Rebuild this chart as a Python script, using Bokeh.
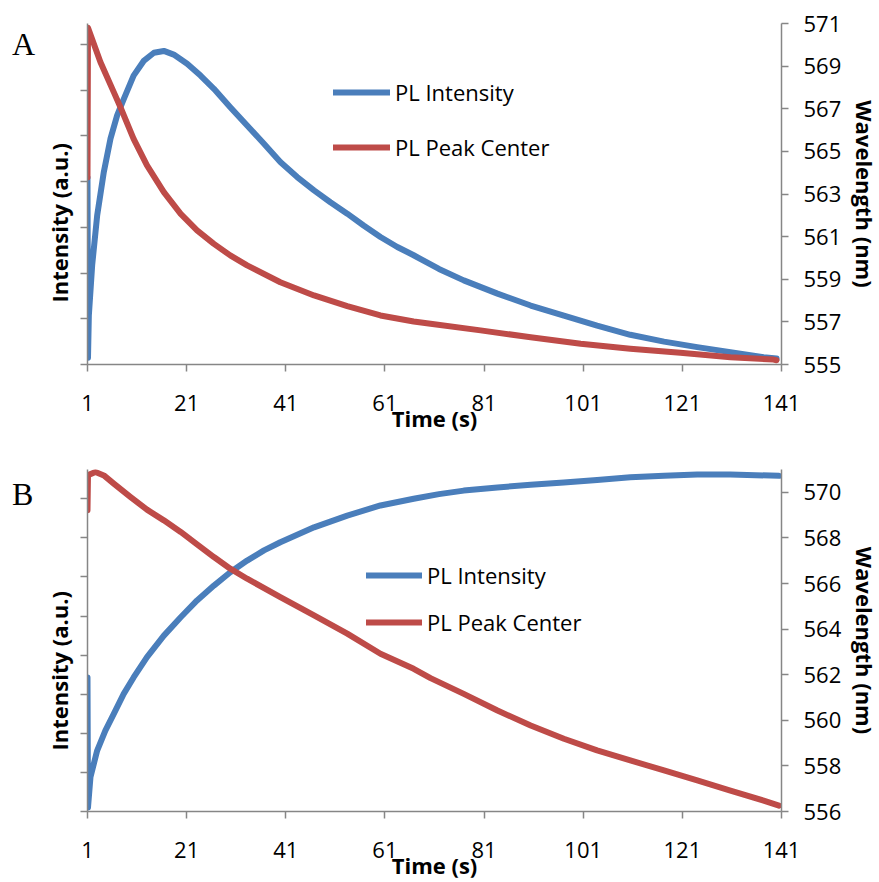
import math

from bokeh.embed import file_html
from bokeh.layouts import column, row
from bokeh.models import (Div, FixedTicker, Legend, LegendItem, LinearAxis, Range1d,
                          Title)
from bokeh.plotting import figure
from bokeh.resources import INLINE

BLUE = "#4A7EBB"
RED = "#BE4B48"
AXIS_GREY = "#868686"
FONT = "Open Sans"

time_ticks = [1, 21, 41, 61, 81, 101, 121, 141]

# ---- Panel A: PL intensity (a.u.) and PL peak centre (nm) vs time (s)
a_int_time = [1, 1.1, 1.27, 1.94, 2.95, 4.29, 5.64, 6.98, 8.33, 10.3, 12.4, 14.4,
              16.4, 18.4, 21.1, 23.8, 26.5, 29.8, 33.2, 36.6, 39.9, 43.3, 46.7,
              50.0, 53.4, 56.7, 60.1, 63.5, 66.8, 71.9, 76.9, 83.7, 90.4, 97.1,
              103.8, 110.5, 117.3, 124.0, 130.7, 137.4, 140.0]
a_int = [4.09, 0.15, 1.07, 2.17, 3.26, 4.21, 4.94, 5.45, 5.81, 6.32, 6.65, 6.82,
         6.86, 6.78, 6.58, 6.32, 6.03, 5.63, 5.23, 4.83, 4.43, 4.10, 3.81,
         3.55, 3.30, 3.04, 2.79, 2.57, 2.39, 2.09, 1.84, 1.55, 1.29, 1.07,
         0.85, 0.65, 0.50, 0.38, 0.27, 0.16, 0.13]
a_wl_time = [1, 1.1, 3.6, 6.3, 7.65, 10.3, 13.0, 16.4, 19.8, 23.1, 26.5, 29.8,
             33.2, 39.9, 46.7, 53.4, 60.1, 66.8, 70.2, 80.3, 90.4, 100.5, 110.5,
             120.6, 130.7, 139.4, 140.0]
a_wl = [563.78, 570.80, 569.19, 567.78, 567.07, 565.59, 564.34, 563.09, 562.07,
        561.29, 560.66, 560.12, 559.65, 558.86, 558.24, 557.74, 557.30, 557.02,
        556.91, 556.60, 556.28, 555.97, 555.74, 555.55, 555.34, 555.23, 555.20]
a_int_ticks = [0, 1, 2, 3, 4, 5, 6, 7]
a_wl_ticks = [555, 557, 559, 561, 563, 565, 567, 569, 571]

# ---- Panel B
b_int_time = [1, 1.1, 1.6, 2.95, 4.6, 6.3, 8.3, 10.3, 13.0, 16.4, 19.8, 23.1,
              26.5, 29.8, 33.2, 36.6, 39.9, 46.7, 53.4, 60.1, 66.8, 71.9, 76.9,
              83.7, 90.4, 97.1, 103.8, 110.5, 117.3, 124.0, 130.7, 140.5]
b_int = [3.43, 0.10, 0.88, 1.56, 2.07, 2.50, 3.01, 3.43, 3.95, 4.50, 4.97, 5.40,
         5.78, 6.12, 6.42, 6.68, 6.89, 7.27, 7.57, 7.83, 8.00, 8.12, 8.21,
         8.29, 8.36, 8.42, 8.48, 8.55, 8.59, 8.62, 8.62, 8.59]
b_wl_time = [1, 1.1, 2.6, 4.3, 6.3, 9.7, 13.0, 16.4, 19.8, 23.1, 26.5, 29.8,
             33.2, 39.9, 46.7, 53.4, 60.1, 66.8, 70.2, 76.9, 83.7, 90.4, 97.1,
             103.8, 110.5, 117.3, 124.0, 130.7, 137.4, 140.5]
b_wl = [569.21, 570.75, 570.89, 570.74, 570.38, 569.79, 569.24, 568.77, 568.26,
        567.72, 567.16, 566.65, 566.21, 565.40, 564.60, 563.80, 562.92, 562.26,
        561.85, 561.16, 560.43, 559.77, 559.19, 558.68, 558.24, 557.80, 557.36,
        556.92, 556.48, 556.26]
b_int_ticks = [0, 1, 2, 3, 4, 5, 6, 7, 8]
b_wl_ticks = [556, 558, 560, 562, 564, 566, 568, 570]

series_names = ["PL Intensity", "PL Peak Center"]

LETTER_W = 36
PANEL_H = 441


def style_axis(ax):
    ax.axis_line_color = AXIS_GREY
    ax.axis_line_width = 1.5
    ax.major_tick_line_color = AXIS_GREY
    ax.major_tick_line_width = 1.5
    ax.major_tick_in = 0
    ax.major_tick_out = 7
    ax.minor_tick_line_color = None
    ax.major_label_text_font = FONT
    ax.major_label_text_font_size = "22px"
    ax.major_label_text_color = "black"
    ax.axis_label_text_font = FONT
    ax.axis_label_text_font_size = "22px"
    ax.axis_label_text_font_style = "bold"
    ax.axis_label_text_color = "black"


def make_panel(t_int, inten, t_wl, wl, int_max, int_ticks, wl_lo, wl_hi,
               wl_ticks, top, frame_h, bottom, legend_loc, legend_gap, glyph_w,
               title_offset):
    p = figure(frame_width=694, frame_height=frame_h,
               min_border_left=87 - LETTER_W, min_border_right=98,
               min_border_top=top, min_border_bottom=bottom,
               x_range=Range1d(1, 141), y_range=Range1d(0, int_max),
               output_backend="svg", toolbar_location=None)
    p.outline_line_color = None
    p.grid.visible = False
    p.background_fill_color = "white"
    p.border_fill_color = "white"

    p.extra_y_ranges = {"wl": Range1d(wl_lo, wl_hi)}

    # time axis
    xa = p.xaxis[0]
    style_axis(xa)
    xa.ticker = FixedTicker(ticks=time_ticks)
    xa.axis_label = "Time (s)"
    xa.major_label_standoff = 23
    xa.axis_label_standoff = -11

    # intensity axis: tick marks only
    ya = p.yaxis[0]
    style_axis(ya)
    ya.ticker = FixedTicker(ticks=int_ticks)
    ya.major_label_overrides = {t: "" for t in int_ticks}

    # intensity title, placed a little below the middle of the axis
    p.add_layout(Title(text="Intensity (a.u.)", align="left", offset=title_offset,
                       vertical_align="middle", standoff=12,
                       text_font=FONT, text_font_size="22px",
                       text_font_style="bold", text_color="black"), "left")

    # wavelength axis
    ra = LinearAxis(y_range_name="wl", ticker=FixedTicker(ticks=wl_ticks),
                    axis_label="Wavelength (nm)")
    style_axis(ra)
    ra.major_label_standoff = 15
    ra.axis_label_standoff = 6
    p.add_layout(ra, "right")

    r_int = p.line(t_int, inten, line_color=BLUE, line_width=6,
                   line_join="round", line_cap="round")
    r_wl = p.line(t_wl, wl, y_range_name="wl", line_color=RED, line_width=6,
                  line_join="round", line_cap="round")

    legend = Legend(items=[LegendItem(label=series_names[0], renderers=[r_int]),
                           LegendItem(label=series_names[1], renderers=[r_wl])],
                    location=legend_loc, orientation="vertical",
                    glyph_width=glyph_w, glyph_height=30, label_height=30,
                    label_standoff=5, spacing=legend_gap, padding=0, margin=0,
                    border_line_color=None, background_fill_alpha=0,
                    label_text_font=FONT, label_text_font_size="22px",
                    label_text_color="black")
    p.add_layout(legend, "center")
    return p


def letter(text, pad_top):
    html = ('<div style="font-family:\'Liberation Serif\';font-size:32px;'
            'line-height:32px;color:black;padding:%dpx 0 0 12px;">%s</div>'
            % (pad_top, text))
    return Div(text=html, width=LETTER_W, height=PANEL_H, margin=0)


pa = make_panel(a_int_time, a_int, a_wl_time, a_wl, 7.46, a_int_ticks,
                555, 571, a_wl_ticks, 23, 341, 77, (246, 202), 25, 57, 62)
pb = make_panel(b_int_time, b_int, b_wl_time, b_wl, 8.75, b_int_ticks,
                556, 571, b_wl_ticks, 28, 342, 71, (279, 174), 17, 56, 61)

layout = column(row(letter("A", 28), pa, spacing=0),
                row(letter("B", 37), pb, spacing=0), spacing=0)
open("out.html", "w").write(file_html(layout, INLINE))
